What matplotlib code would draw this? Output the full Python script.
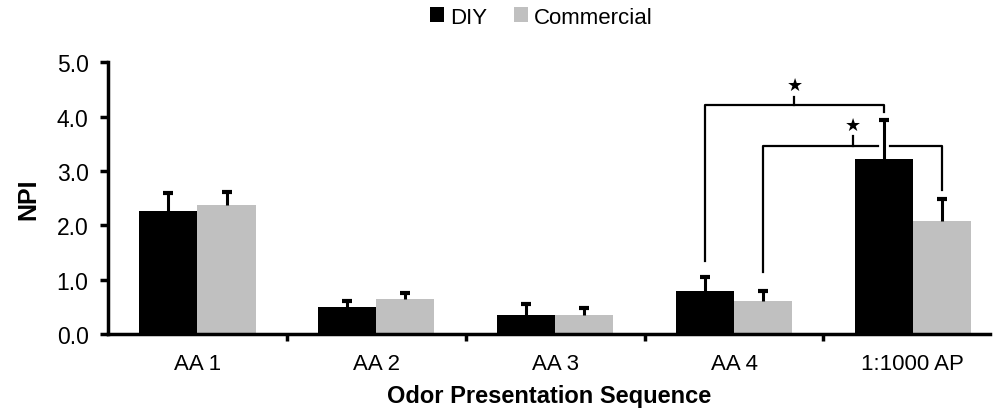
import matplotlib.pyplot as plt
import numpy as np

plt.rcParams['font.family'] = ['Liberation Sans', 'DejaVu Sans']

# data
categories = ['AA 1', 'AA 2', 'AA 3', 'AA 4', '1:1000 AP']
diy = [2.26, 0.50, 0.35, 0.79, 3.22]
diy_err = [0.33, 0.11, 0.20, 0.26, 0.71]
commercial = [2.38, 0.64, 0.35, 0.61, 2.08]
commercial_err = [0.24, 0.11, 0.12, 0.18, 0.40]

x = np.arange(len(categories))
width = 0.325

fig = plt.figure(figsize=(9.93, 4.10), dpi=100)
ax = fig.add_axes([0.1088, 0.183, 0.888, 0.663])

b1 = ax.bar(x - width / 2, diy, width, color='black', label='DIY', zorder=2)
b2 = ax.bar(x + width / 2, commercial, width, color='#c0c0c0', label='Commercial', zorder=2)


# only the upper half of each error bar, with a cap
def upper_err(xs, vals, errs):
    tops = np.array(vals) + np.array(errs)
    ax.vlines(xs, vals, tops, color='black', lw=2.2, zorder=3)
    ax.plot(xs, tops, ls='none', marker='_', ms=7, mew=3, color='black', zorder=3)


upper_err(x - width / 2, diy, diy_err)
upper_err(x + width / 2, commercial, commercial_err)

ax.set_xlim(-0.5, 4.43)
ax.set_ylim(0, 5)
ax.set_yticks(np.arange(0, 5.01, 1.0))
ax.set_yticklabels(['%.1f' % v for v in np.arange(0, 5.01, 1.0)], fontsize=16.5)
ax.set_xticks(x)
ax.set_xticklabels(categories, fontsize=16)
ax.set_xticks(x[:-1] + 0.5, minor=True)
ax.tick_params(axis='x', which='major', length=0, pad=14)
ax.tick_params(axis='x', which='minor', length=5, width=2.5, direction='out')
ax.tick_params(axis='y', length=6, width=2.5, direction='out', pad=8)

for s in ['top', 'right']:
    ax.spines[s].set_visible(False)
for s in ['left', 'bottom']:
    ax.spines[s].set_linewidth(2.5)

ax.set_ylabel('NPI', fontsize=18, fontweight='bold', labelpad=12)
ax.set_xlabel('Odor Presentation Sequence', fontsize=17, fontweight='bold', labelpad=7)

# significance brackets
lw = 1.6
# AA4 DIY vs AP DIY
x1 = x[3] - width / 2
x2 = x[4] - width / 2
top = 4.21
ax.plot([x1, x1, x2, x2], [diy[3] + diy_err[3] + 0.29, top, top, top - 0.13],
        color='black', lw=lw, zorder=3)
xm = (x1 + x2) / 2
ax.plot([xm, xm], [top, top + 0.15], color='black', lw=lw)
ax.text(xm, top + 0.2, '★', ha='center', va='bottom', fontsize=13, family=['DejaVu Sans'])

# AA4 Commercial vs AP Commercial
x1 = x[3] + width / 2
x2 = x[4] + width / 2
top = 3.46
xd = x[4] - width / 2
ax.plot([x1, x1, xd - 0.035], [commercial[3] + commercial_err[3] + 0.35, top, top],
        color='black', lw=lw, zorder=3)
ax.plot([xd + 0.035, x2, x2], [top, top, commercial[4] + commercial_err[4] + 0.17],
        color='black', lw=lw, zorder=3)
xm = (x1 + x2) / 2
ax.plot([xm, xm], [top, top + 0.18], color='black', lw=lw)
ax.text(xm, top + 0.22, '★', ha='center', va='bottom', fontsize=13, family=['DejaVu Sans'])

fig.legend(handles=[b1, b2], labels=['DIY', 'Commercial'], loc='upper center',
           bbox_to_anchor=(0.545, 1.03), ncol=2, frameon=False, fontsize=16,
           handlelength=0.65, handleheight=0.65, handletextpad=0.25, columnspacing=1.2)

fig.savefig('out.png', dpi=100)
